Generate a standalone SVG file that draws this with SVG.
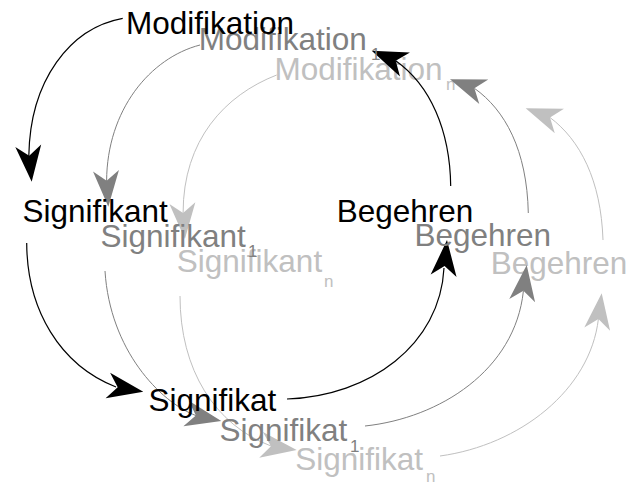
<svg xmlns="http://www.w3.org/2000/svg" xmlns:xlink="http://www.w3.org/1999/xlink" width="633" height="484" viewBox="0 0 633 484">
<style>
text{font-family:"Liberation Sans",Arial,sans-serif;}
.t{font-size:31.5px;}
.s{font-size:17px;}
.k{fill:#000;}
.g{fill:#808080;}
.l{fill:#c0c0c0;}
.ck{fill:none;stroke:#000;stroke-width:1.2;}
.cg{fill:none;stroke:#808080;stroke-width:1;}
.cl{fill:none;stroke:#c0c0c0;stroke-width:1;}
</style>
<defs>
<path id="ah" d="M0 0 L-36 -13 L-26 0 L-36 13 Z"/>
</defs>
<rect width="633" height="484" fill="#fff"/>
<!-- light set nodes -->
<g id="modifikation-n"><text class="t l" x="274.4" y="80">Modifikation</text><text class="s l" x="446" y="90">n</text></g>
<g id="signifikant-n"><text class="t l" x="176.8" y="272">Signifikant</text><text class="s l" x="324" y="287">n</text></g>
<g id="begehren-n"><text class="t l" x="490.7" y="274">Begehren</text></g>
<g id="signifikat-n"><text class="t l" x="295.2" y="470">Signifikat</text><text class="s l" x="426" y="481.5">n</text></g>
<g id="connectors">
<path class="ck" d="M122.7 18.3 C70 28 30 80 28.8 156"/>
<use xlink:href="#ah" fill="#000" transform="translate(31.7 181.7) rotate(84.5)"/>
<path class="ck" d="M26.7 243 C27 310 60 365 116 387"/>
<use xlink:href="#ah" fill="#000" transform="translate(143.3 391.7) rotate(10)"/>
<path class="ck" d="M287 399 C370 396 440 345 444 268"/>
<use xlink:href="#ah" fill="#000" transform="translate(447 240) rotate(-84.6)"/>
<path class="ck" d="M450.7 186 C450 130 430 85 396 61"/>
<use xlink:href="#ah" fill="#000" transform="translate(371.7 50.7) rotate(202.5)"/>
<path class="cg" d="M200 45 C150 58 107 110 106.6 181"/>
<use xlink:href="#ah" fill="#808080" transform="translate(108.3 206.7) rotate(86.3)"/>
<path class="cg" d="M105 271 C110 350 160 402 196 415.6"/>
<use xlink:href="#ah" fill="#808080" transform="translate(221.3 421) rotate(12)"/>
<path class="cg" d="M365 426 C440 418 515 370 523.4 291"/>
<use xlink:href="#ah" fill="#808080" transform="translate(526.7 265) rotate(-82.8)"/>
<path class="cg" d="M528.3 213 C527 150 505 110 474.4 88.3"/>
<use xlink:href="#ah" fill="#808080" transform="translate(450 79.3) rotate(200.2)"/>
<path class="cl" d="M276.7 75 C225 95 183 140 183.1 213"/>
<use xlink:href="#ah" fill="#c0c0c0" transform="translate(184.9 239) rotate(86)"/>
<path class="cl" d="M180 296 C180 370 215 425 271 446"/>
<use xlink:href="#ah" fill="#c0c0c0" transform="translate(296.7 450) rotate(8.1)"/>
<path class="cl" d="M440 456 C520 445 590 390 598.4 319"/>
<use xlink:href="#ah" fill="#c0c0c0" transform="translate(601.7 293.3) rotate(-82.8)"/>
<path class="cl" d="M603 240 C601 180 580 140 550 117.5"/>
<use xlink:href="#ah" fill="#c0c0c0" transform="translate(525.7 108.3) rotate(200.7)"/>
</g>
<!-- gray set nodes -->
<g id="modifikation-1"><text class="t g" x="198.7" y="50">Modifikation</text><text class="s g" x="371" y="60">1</text></g>
<g id="signifikant-1"><text class="t g" x="100.5" y="247">Signifikant</text><text class="s g" x="248" y="257">1</text></g>
<g id="begehren-1"><text class="t g" x="414.4" y="246">Begehren</text></g>
<g id="signifikat-1"><text class="t g" x="219.5" y="441">Signifikat</text><text class="s g" x="350" y="452">1</text></g>
<!-- black set nodes -->
<g id="modifikation"><text class="t k" x="126" y="34">Modifikation</text></g>
<g id="signifikant"><text class="t k" x="22.5" y="222">Signifikant</text></g>
<g id="begehren"><text class="t k" x="336.7" y="222">Begehren</text></g>
<g id="signifikat"><text class="t k" x="148.5" y="411">Signifikat</text></g>
</svg>
